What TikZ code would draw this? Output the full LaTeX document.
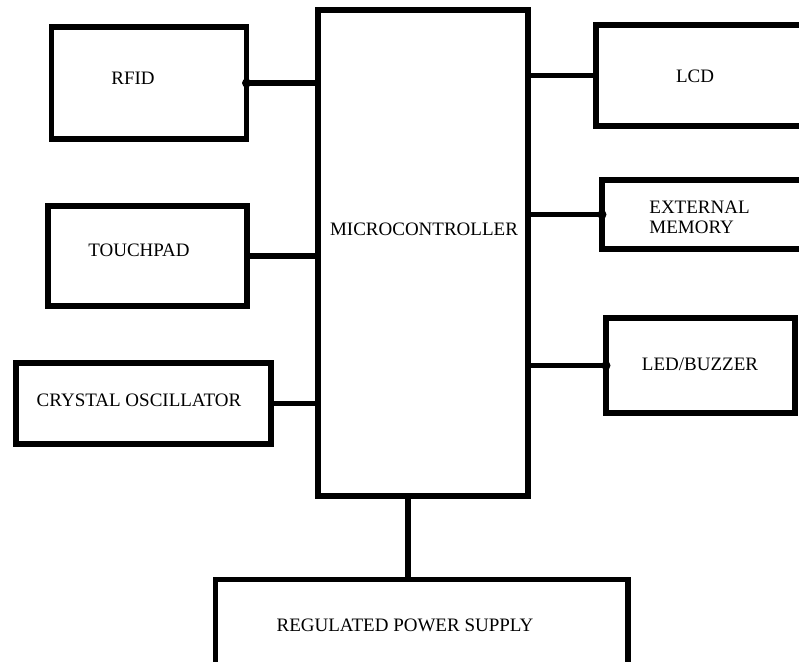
\documentclass[tikz,border=0pt]{standalone}
\usepackage{fontspec}
\setmainfont{Liberation Serif}
\usepackage{tikz}

\begin{document}
\begin{tikzpicture}[x=0.5pt,y=-0.5pt,
  blk/.style={draw,line width=2.8pt,inner sep=0pt,outer sep=0pt},
  wire/.style={line width=2.8pt},
  lbl/.style={font=\fontsize{9.5}{10}\selectfont,inner sep=0pt},
  dot/.style={fill,circle,inner sep=0pt,minimum size=4.5pt}]
  \clip (0,0) rectangle (799,661);
  % blocks
  \node[blk,minimum width=97.5pt,minimum height=56pt] (rfid) at (149,83) {};
  \node[blk,minimum width=99.5pt,minimum height=50pt] (touch) at (147.5,256) {};
  \node[blk,minimum width=127.5pt,minimum height=40.5pt] (xtal) at (143.5,403.5) {};
  \node[blk,minimum width=105pt,minimum height=243pt] (mcu) at (423,253) {};
  \node[blk,minimum width=104.5pt,minimum height=50.5pt] (lcd) at (700.5,75.5) {};
  \node[blk,minimum width=101.5pt,minimum height=34.5pt] (mem) at (703.5,214.5) {};
  \node[blk,minimum width=94.5pt,minimum height=47.5pt] (led) at (700.5,365.5) {};
  \node[blk,minimum width=206.25pt,minimum height=42.75pt] (psu) at (421.75,622.25) {};
  % labels
  \node[lbl] (trfid) at (133,78) {RFID};
  \node[lbl] (ttouch) at (139,250) {TOUCHPAD};
  \node[lbl] (txtal) at (139,400) {CRYSTAL OSCILLATOR};
  \node[lbl] (tmcu) at (424,229) {MICROCONTROLLER};
  \node[lbl] (tlcd) at (695,76) {LCD};
  \node[lbl,align=left,anchor=west] (tmem) at (649,217) {EXTERNAL\\MEMORY};
  \node[lbl] (tled) at (700,364) {LED/BUZZER};
  \node[lbl] (tpsu) at (405,625) {REGULATED POWER SUPPLY};
  % connections
  \draw[wire] (rfid.east) -- (rfid.east -| mcu.west);
  \draw[wire] (touch.east) -- (touch.east -| mcu.west);
  \draw[wire] (xtal.east) -- (xtal.east -| mcu.west);
  \draw[wire] (lcd.west) -- (lcd.west -| mcu.east);
  \draw[wire] (mem.west) -- (mem.west -| mcu.east);
  \draw[wire] (led.west) -- (led.west -| mcu.east);
  \draw[wire] ([xshift=-7.5pt]mcu.south) -- ([xshift=-7.5pt]mcu.south |- psu.north);
  \node[dot] (d1) at (rfid.east) {};
  \node[dot] (d2) at (mem.west) {};
  \node[dot] (d3) at (led.west) {};
\end{tikzpicture}
\end{document}
